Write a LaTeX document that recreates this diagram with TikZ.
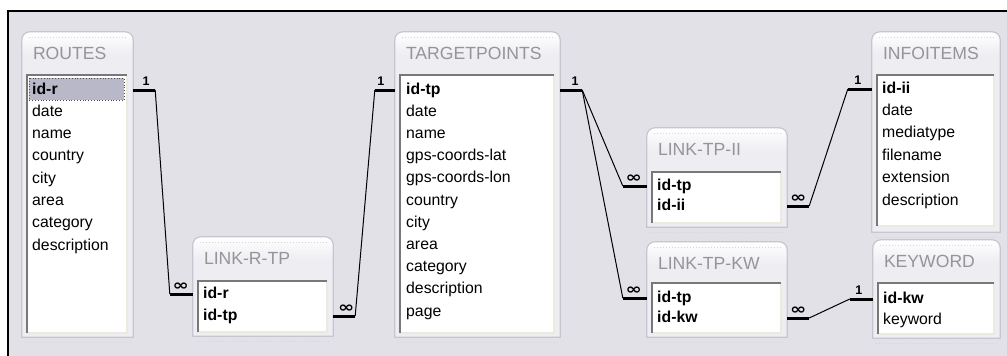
\documentclass[tikz,border=0pt]{standalone}
\usepackage{fontspec}
\usepackage{graphicx}
\setmainfont{Liberation Sans}
\newfontfamily\symfont{DejaVu Sans}
\usetikzlibrary{fit,calc}

\definecolor{panelbg}{RGB}{225,225,231}
\definecolor{boxfill}{RGB}{237,237,242}
\definecolor{boxedge}{RGB}{198,198,208}
\definecolor{titlegray}{RGB}{148,148,153}
\definecolor{listdark}{RGB}{120,120,120}
\definecolor{listlight}{RGB}{236,234,222}
\definecolor{selfill}{RGB}{184,184,200}
\definecolor{dotgray}{RGB}{212,212,220}

\tikzset{
  tabletitle/.style={anchor=west, inner sep=0pt, text=titlegray,
    font=\fontsize{17.6}{18}\selectfont},
  field/.style={anchor=west, inner sep=0pt, text height=11pt, text depth=3pt,
    font=\fontsize{15.8}{17}\selectfont},
  onebar/.style={line width=3pt, black},
  manybar/.style={line width=3pt, black},
  rel/.style={line width=1pt, black},
  onelabel/.style={anchor=south, inner sep=0pt, yshift=4.5pt,
    font=\fontsize{12.5}{12.5}\selectfont\bfseries},
  manylabel/.style={anchor=south, inner sep=0pt, yshift=3.5pt,
    font=\symfont\fontsize{15}{15}\selectfont\bfseries},
  selrow/.style={fill=selfill, draw=black!70, dotted, line width=0.8pt},
}

% outline of a table window: rounded top, square bottom
\newcommand\boxoutline[1]{(#1.south west) -- ([yshift=-8pt]#1.north west)
  arc[start angle=180, end angle=90, radius=8pt]
  -- ([xshift=-8pt]#1.north east)
  arc[start angle=90, end angle=0, radius=8pt] -- (#1.south east) -- cycle}

% #1 name, #2 title, #3 left, #4 top, #5 right, #6 bottom, #7 list top, #8 list bottom
\newcommand\dbtable[8]{%
  \node[fit={(#3,#4) (#5,#6)}, inner sep=0pt] (#1) {};
  \fill[boxfill] \boxoutline{#1};
  \begin{scope}
    \clip \boxoutline{#1};
    \shade[top color=white, bottom color=boxfill]
      (#1.north west) rectangle ([yshift=-24pt]#1.north east);
  \end{scope}
  \draw[boxedge, line width=1.2pt] \boxoutline{#1};
  \draw[dotgray, dotted, line width=1pt]
    ([xshift=7pt, yshift=-6pt]#1.north west) -- ([xshift=-7pt, yshift=-6pt]#1.north east);
  \draw[dotgray, dotted, line width=1pt]
    ([xshift=3pt, yshift=-5pt]#1.south west) -- ([xshift=-3pt, yshift=-5pt]#1.south east);
  \node[tabletitle] (#1-title) at ([xshift=11pt, yshift=-22pt]#1.north west) {#2};
  \node[fit={(#3+5,#7) (#5-6,#8)}, inner sep=0pt] (#1-list) {};
  \fill[white] (#1-list.south west) rectangle (#1-list.north east);
  \draw[listlight, line width=1.6pt] (#1-list.north east) -- (#1-list.south east) -- (#1-list.south west);
  \draw[listdark, line width=1.6pt] (#1-list.south west) -- (#1-list.north west) -- (#1-list.north east);
}

% #1 table name, #2 text x, #3 first row y, #4 row pitch, #5 field list
\newcommand\dbfields[5]{%
  \foreach \f [count=\i] in {#5}
    \node[field] (#1-\i) at (#2, {#3+(\i-1)*#4}) {\f};
}

\newcommand\manysign{\scalebox{1.3}[1]{∞}}

\begin{document}
\begin{tikzpicture}[x=1pt, y=-1pt]
  \useasboundingbox (0,0) rectangle (1007,356);
  \fill[white] (0,0) rectangle (1007,356);
  \fill[panelbg] (8,11) rectangle (1007,356);
  \draw[black, line width=1.5pt] (8,356) -- (8,11) -- (1007,11);

  % tables
  \dbtable{routes}{ROUTES}{22}{32}{133}{337}{75}{333}
  \filldraw[selrow] (29,78) rectangle (124,100);
  \dbfields{routes}{32}{90}{22.3}{{\bfseries id-r},date,name,country,city,area,category,description}

  \dbtable{lrtp}{LINK-R-TP}{193}{237}{333}{336}{281}{332}
  \dbfields{lrtp}{203}{294}{22}{{\bfseries id-r},{\bfseries id-tp}}

  \dbtable{tp}{TARGETPOINTS}{395}{32}{560}{337}{75}{333}
  \dbfields{tp}{406}{90}{22.2}{{\bfseries id-tp},date,name,gps-coords-lat,gps-coords-lon,country,city,area,category,description,page}

  \dbtable{ltpii}{LINK-TP-II}{647}{128}{787}{227}{172}{223}
  \dbfields{ltpii}{657}{186}{20}{{\bfseries id-tp},{\bfseries id-ii}}

  \dbtable{ltpkw}{LINK-TP-KW}{647}{242}{787}{337}{283}{333}
  \dbfields{ltpkw}{657}{298}{20}{{\bfseries id-tp},{\bfseries id-kw}}

  \dbtable{info}{INFOITEMS}{872}{32}{1000}{232}{75}{226}
  \dbfields{info}{882}{89}{22.4}{{\bfseries id-ii},date,mediatype,filename,extension,description}

  \dbtable{kw}{KEYWORD}{873}{240}{1000}{338}{283}{334}
  \dbfields{kw}{883}{299}{21}{{\bfseries id-kw},keyword}

  % ROUTES.id-r  1 --- n  LINK-R-TP.id-r
  \draw[onebar] (routes.east |- routes-1) -- ++(22,0) coordinate (c1a);
  \draw[manybar] (lrtp.west |- lrtp-1) -- ++(-23,0) coordinate (c1b);
  \draw[rel] (c1a) -- (c1b);
  \node[onelabel] (c1one) at ([xshift=13pt]routes.east |- routes-1) {1};
  \node[manylabel] (c1many) at ([xshift=-12pt]lrtp.west |- lrtp-1) {\manysign};

  % TARGETPOINTS.id-tp  1 --- n  LINK-R-TP.id-tp
  \draw[manybar] (lrtp.east |- lrtp-2) -- ++(22,0) coordinate (c2a);
  \draw[onebar] (tp.west |- tp-1) -- ++(-20,0) coordinate (c2b);
  \draw[rel] (c2a) -- (c2b);
  \node[manylabel] (c2many) at ([xshift=13pt]lrtp.east |- lrtp-2) {\manysign};
  \node[onelabel] (c2one) at ([xshift=-14pt]tp.west |- tp-1) {1};

  % TARGETPOINTS.id-tp  1 --- n  LINK-TP-II.id-tp / LINK-TP-KW.id-tp
  \draw[onebar] (tp.east |- tp-1) -- ++(22,0) coordinate (c3a);
  \draw[manybar] (ltpii.west |- ltpii-1) -- ++(-24,0) coordinate (c3b);
  \draw[manybar] (ltpkw.west |- ltpkw-1) -- ++(-24,0) coordinate (c3c);
  \draw[rel] (c3a) -- (c3b);
  \draw[rel] (c3a) -- (c3c);
  \node[onelabel] (c3one) at ([xshift=15pt]tp.east |- tp-1) {1};
  \node[manylabel] (c3many) at ([xshift=-13pt]ltpii.west |- ltpii-1) {\manysign};
  \node[manylabel] (c3many2) at ([xshift=-13pt]ltpkw.west |- ltpkw-1) {\manysign};

  % INFOITEMS.id-ii  1 --- n  LINK-TP-II.id-ii
  \draw[manybar] (ltpii.east |- ltpii-2) -- ++(22,0) coordinate (c4a);
  \draw[onebar] (info.west |- info-1) -- ++(-24,0) coordinate (c4b);
  \draw[rel] (c4a) -- (c4b);
  \node[manylabel] (c4many) at ([xshift=11pt]ltpii.east |- ltpii-2) {\manysign};
  \node[onelabel] (c4one) at ([xshift=-14pt]info.west |- info-1) {1};

  % KEYWORD.id-kw  1 --- n  LINK-TP-KW.id-kw
  \draw[manybar] (ltpkw.east |- ltpkw-2) -- ++(22,0) coordinate (c5a);
  \draw[onebar] (kw.west |- kw-1) -- ++(-23,0) coordinate (c5b);
  \draw[rel] (c5a) -- (c5b);
  \node[manylabel] (c5many) at ([xshift=11pt]ltpkw.east |- ltpkw-2) {\manysign};
  \node[onelabel] (c5one) at ([xshift=-14pt]kw.west |- kw-1) {1};
\end{tikzpicture}
\end{document}
